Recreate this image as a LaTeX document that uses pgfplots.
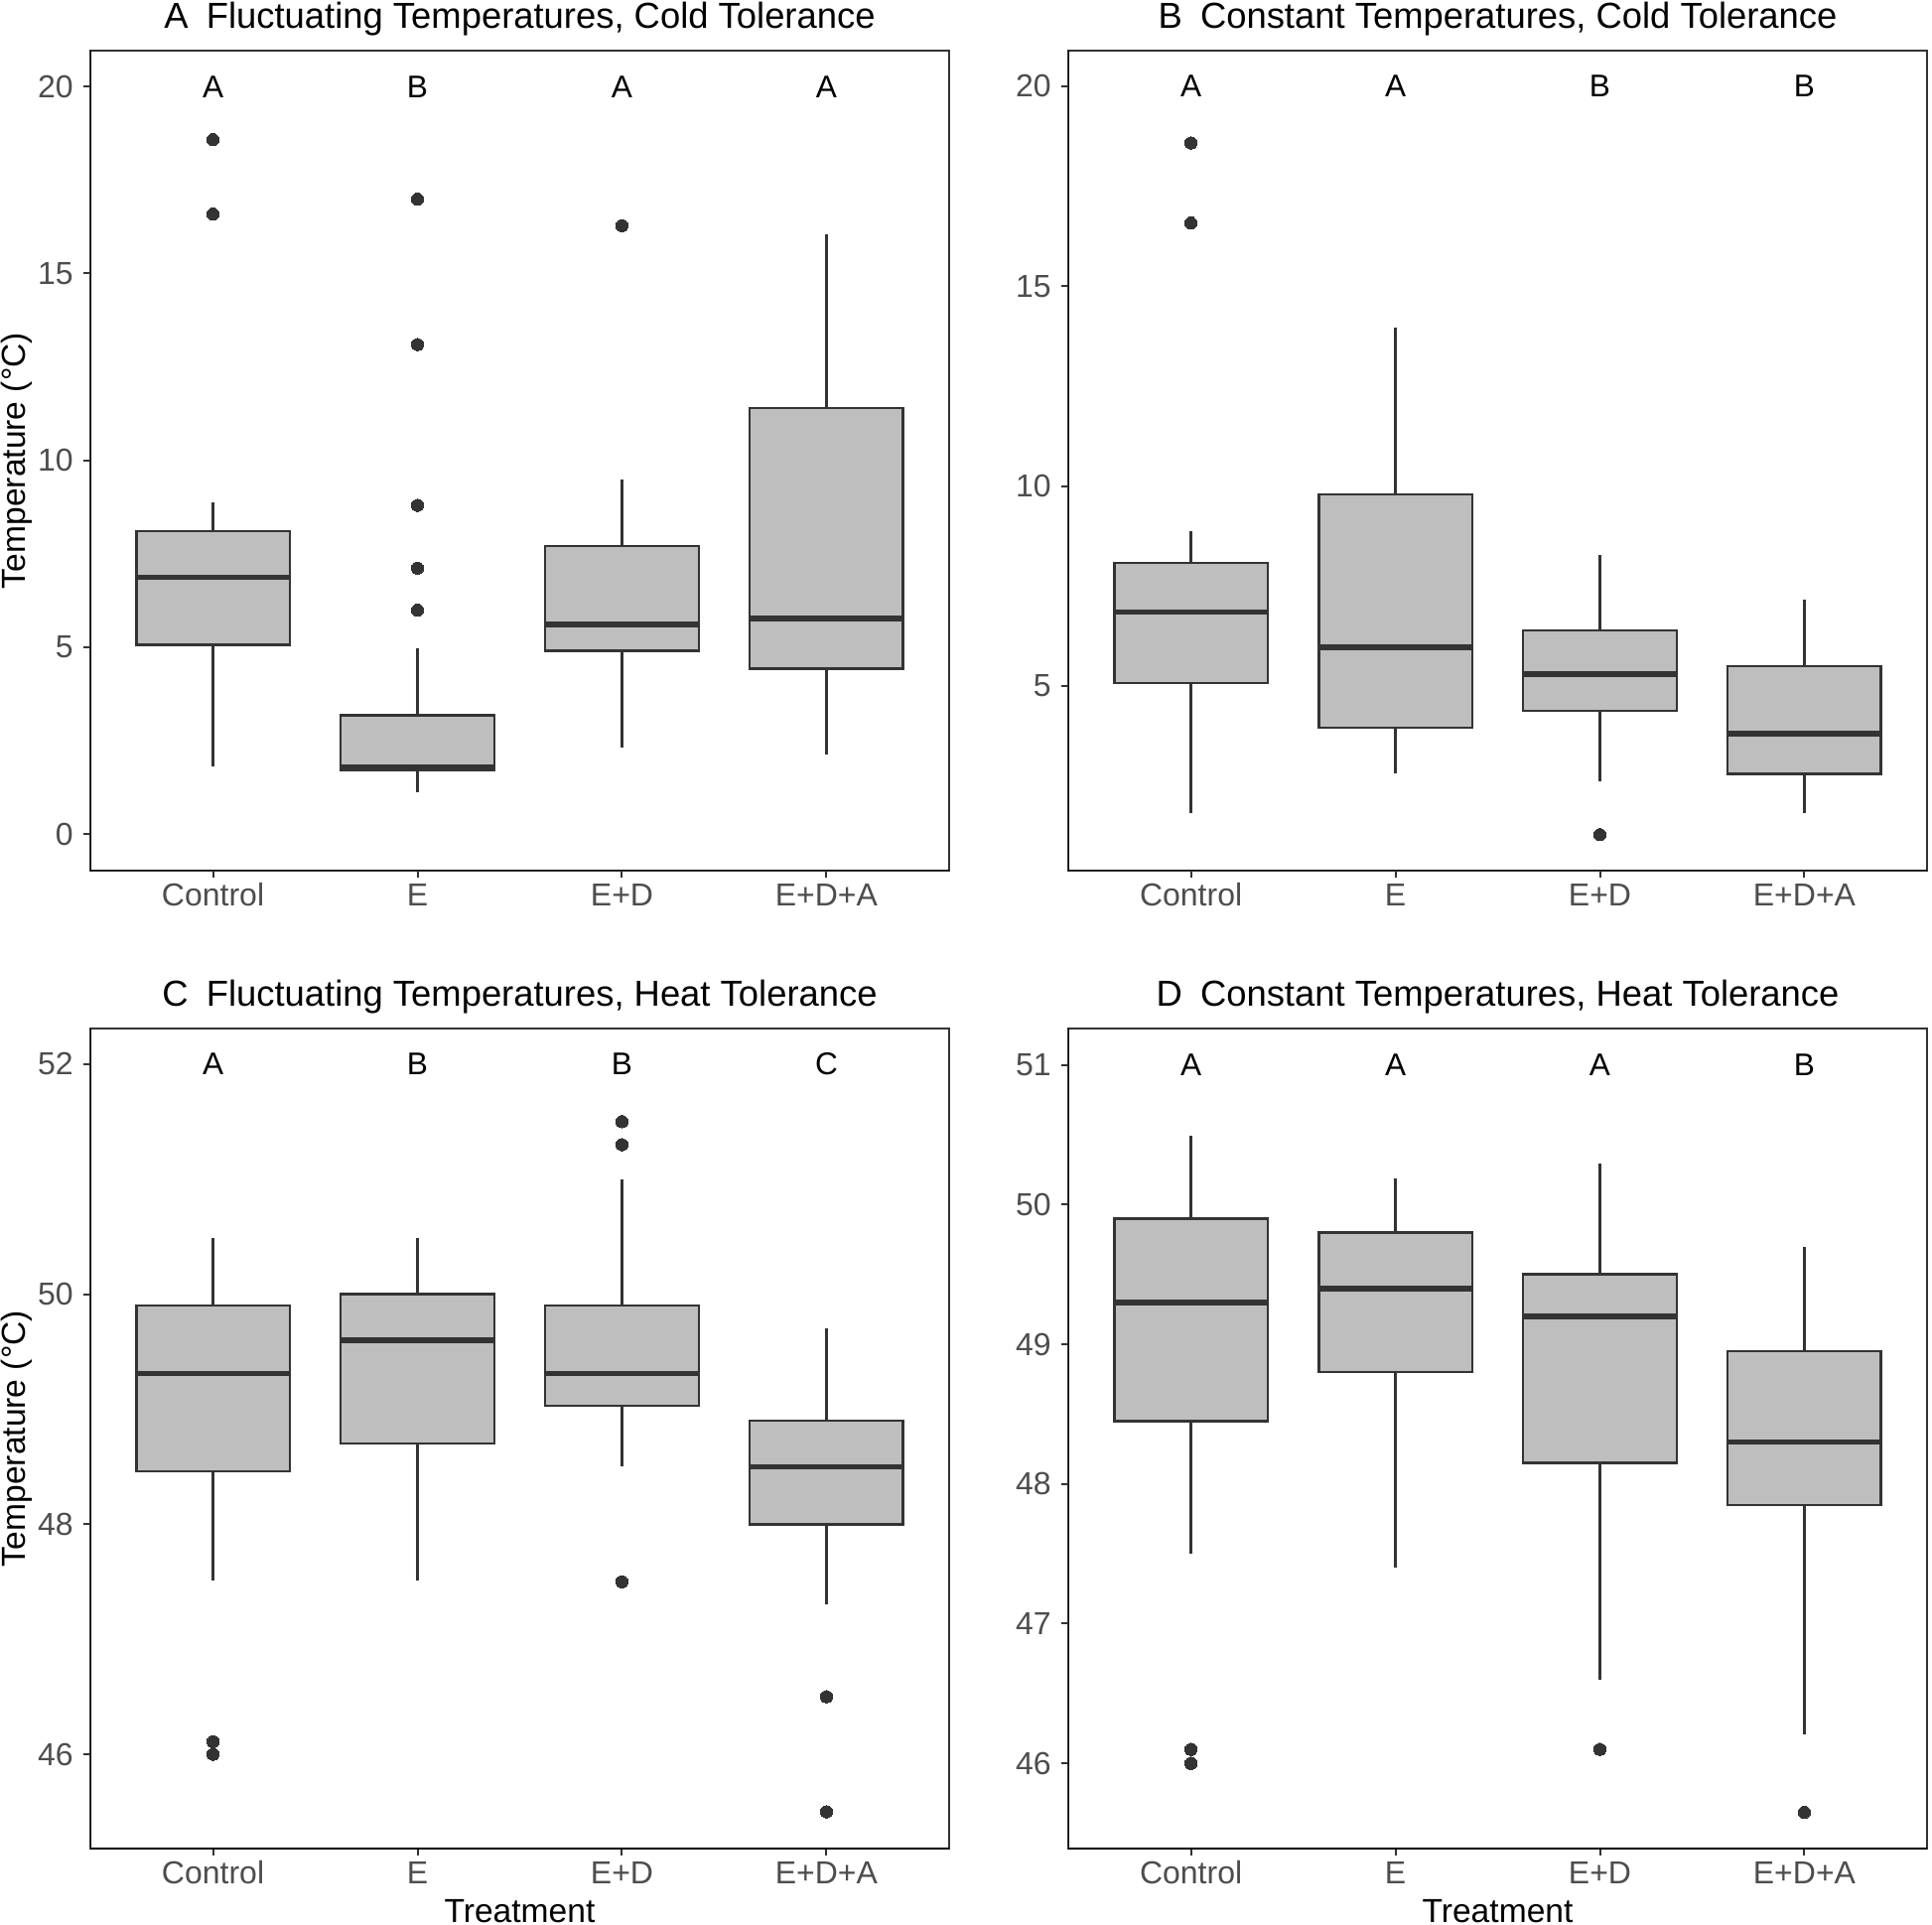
\documentclass[border=0pt]{standalone}
\usepackage{fontspec}
\setmainfont{Liberation Sans}
\usepackage{pgfplots}
\pgfplotsset{compat=1.18}
\usepgfplotslibrary{statistics}
\definecolor{g20}{HTML}{333333}
\definecolor{g30}{HTML}{4D4D4D}
\definecolor{boxg}{HTML}{BEBEBE}
\pgfplotsset{
  panel/.style={
    width=216.25pt, height=206.5pt, scale only axis,
    xmin=0.4, xmax=4.6, xtick={1,2,3,4},
    xticklabels={Control,E,E+D,E+D+A},
    axis line style={g20, line width=0.35pt},
    tick align=outside, xtick pos=bottom, ytick pos=left,
    major tick length=1.8pt,
    tick style={g20, line width=0.5pt},
    ticklabel style={font=\fontsize{8}{9}\selectfont, text=g30},
    xticklabel style={text height=5.75pt, text depth=0pt, yshift=2.2pt},
    yticklabel style={xshift=1pt},
    /pgf/number format/assume math mode=true,
    title style={font=\fontsize{9.1}{10}\selectfont, at={(0.5,1)}, anchor=base, yshift=-0.5pt},
    ylabel style={font=\fontsize{8.4}{9}\selectfont, at={(axis description cs:-0.0855,0.5)}, anchor=center},
    xlabel style={font=\fontsize{8.4}{9}\selectfont, at={(axis description cs:0.5,-0.0896)}, anchor=base},
    boxplot/draw direction=y,
  },
  bx/.style={draw=g20, fill=boxg, line width=0.6pt, mark=*, mark size=1.55pt,
    mark options={draw=g20, fill=g20, line width=0pt},
    boxplot/every median/.style={line width=1.4pt}},
}
\tikzset{lt/.style={font=\fontsize{7.9}{9}\selectfont, text=black}}
\newcommand{\axlines}{%
  \draw[black, line width=0.5pt] (rel axis cs:0,1) -- (rel axis cs:0,0) -- (rel axis cs:1,0);}
\begin{document}
\begin{tikzpicture}
\useasboundingbox (0,0) rectangle (486.5pt,484.5pt);
% Panel A
\begin{axis}[panel, at={(22.75pt,265.25pt)}, anchor=south west,
  ymin=-0.97, ymax=20.96, ytick={0,5,10,15,20},
  title={A\enspace Fluctuating Temperatures, Cold Tolerance},
  ylabel={Temperature (°C)}]
\addplot[bx, boxplot prepared={draw position=1, lower whisker=1.81, lower quartile=5.07, median=6.87, upper quartile=8.11, upper whisker=8.88, box extend=0.75, whisker extend=0}] coordinates {(1,18.58) (1,16.59)};
\addplot[bx, boxplot prepared={draw position=2, lower whisker=1.14, lower quartile=1.71, median=1.80, upper quartile=3.18, upper whisker=4.99, box extend=0.75, whisker extend=0}] coordinates {(2,16.99) (2,13.10) (2,8.80) (2,7.12) (2,6.00)};
\addplot[bx, boxplot prepared={draw position=3, lower whisker=2.32, lower quartile=4.91, median=5.62, upper quartile=7.71, upper whisker=9.49, box extend=0.75, whisker extend=0}] coordinates {(3,16.28)};
\addplot[bx, boxplot prepared={draw position=4, lower whisker=2.13, lower quartile=4.43, median=5.77, upper quartile=11.40, upper whisker=16.05, box extend=0.75, whisker extend=0}] coordinates {};
\node[lt] at (axis cs:1,20) {A};
\node[lt] at (axis cs:2,20) {B};
\node[lt] at (axis cs:3,20) {A};
\node[lt] at (axis cs:4,20) {A};
\axlines
\end{axis}
% Panel B
\begin{axis}[panel, at={(269pt,265.25pt)}, anchor=south west,
  ymin=0.38, ymax=20.89, ytick={5,10,15,20},
  title={B\enspace Constant Temperatures, Cold Tolerance}]
\addplot[bx, boxplot prepared={draw position=1, lower whisker=1.81, lower quartile=5.08, median=6.85, upper quartile=8.08, upper whisker=8.87, box extend=0.75, whisker extend=0}] coordinates {(1,18.58) (1,16.58)};
\addplot[bx, boxplot prepared={draw position=2, lower whisker=2.81, lower quartile=3.95, median=5.96, upper quartile=9.79, upper whisker=13.97, box extend=0.75, whisker extend=0}] coordinates {};
\addplot[bx, boxplot prepared={draw position=3, lower whisker=2.61, lower quartile=4.38, median=5.29, upper quartile=6.39, upper whisker=8.27, box extend=0.75, whisker extend=0}] coordinates {(3,1.28)};
\addplot[bx, boxplot prepared={draw position=4, lower whisker=1.81, lower quartile=2.80, median=3.80, upper quartile=5.49, upper whisker=7.17, box extend=0.75, whisker extend=0}] coordinates {};
\node[lt] at (axis cs:1,20) {A};
\node[lt] at (axis cs:2,20) {A};
\node[lt] at (axis cs:3,20) {B};
\node[lt] at (axis cs:4,20) {B};
\axlines
\end{axis}
% Panel C
\begin{axis}[panel, at={(22.75pt,19pt)}, anchor=south west,
  ymin=45.18, ymax=52.31, ytick={46,48,50,52},
  title={C\enspace Fluctuating Temperatures, Heat Tolerance},
  ylabel={Temperature (°C)}, xlabel={Treatment}]
\addplot[bx, boxplot prepared={draw position=1, lower whisker=47.51, lower quartile=48.46, median=49.31, upper quartile=49.90, upper whisker=50.49, box extend=0.75, whisker extend=0}] coordinates {(1,46.11) (1,46.00)};
\addplot[bx, boxplot prepared={draw position=2, lower whisker=47.51, lower quartile=48.70, median=49.60, upper quartile=50.00, upper whisker=50.49, box extend=0.75, whisker extend=0}] coordinates {};
\addplot[bx, boxplot prepared={draw position=3, lower whisker=48.50, lower quartile=49.03, median=49.31, upper quartile=49.90, upper whisker=51.00, box extend=0.75, whisker extend=0}] coordinates {(3,51.50) (3,51.30) (3,47.50)};
\addplot[bx, boxplot prepared={draw position=4, lower whisker=47.30, lower quartile=48.00, median=48.50, upper quartile=48.90, upper whisker=49.70, box extend=0.75, whisker extend=0}] coordinates {(4,46.50) (4,45.50)};
\node[lt] at (axis cs:1,52) {A};
\node[lt] at (axis cs:2,52) {B};
\node[lt] at (axis cs:3,52) {B};
\node[lt] at (axis cs:4,52) {C};
\axlines
\end{axis}
% Panel D
\begin{axis}[panel, at={(269pt,19pt)}, anchor=south west,
  ymin=45.39, ymax=51.26, ytick={46,47,48,49,50,51},
  title={D\enspace Constant Temperatures, Heat Tolerance},
  xlabel={Treatment}]
\addplot[bx, boxplot prepared={draw position=1, lower whisker=47.50, lower quartile=48.45, median=49.30, upper quartile=49.90, upper whisker=50.49, box extend=0.75, whisker extend=0}] coordinates {(1,46.10) (1,46.00)};
\addplot[bx, boxplot prepared={draw position=2, lower whisker=47.40, lower quartile=48.80, median=49.40, upper quartile=49.80, upper whisker=50.19, box extend=0.75, whisker extend=0}] coordinates {};
\addplot[bx, boxplot prepared={draw position=3, lower whisker=46.60, lower quartile=48.15, median=49.20, upper quartile=49.50, upper whisker=50.29, box extend=0.75, whisker extend=0}] coordinates {(3,46.10)};
\addplot[bx, boxplot prepared={draw position=4, lower whisker=46.21, lower quartile=47.85, median=48.30, upper quartile=48.95, upper whisker=49.70, box extend=0.75, whisker extend=0}] coordinates {(4,45.65)};
\node[lt] at (axis cs:1,51) {A};
\node[lt] at (axis cs:2,51) {A};
\node[lt] at (axis cs:3,51) {A};
\node[lt] at (axis cs:4,51) {B};
\axlines
\end{axis}
\end{tikzpicture}
\end{document}
